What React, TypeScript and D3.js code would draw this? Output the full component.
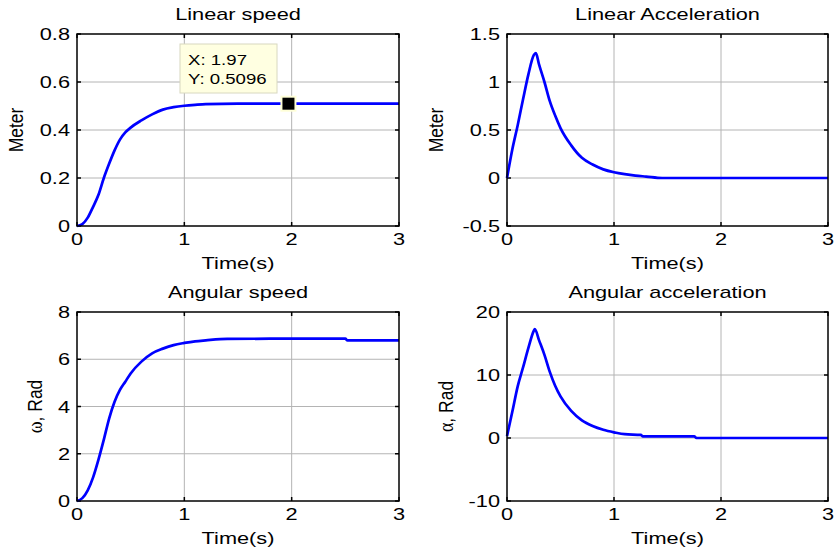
import React from "react";
import * as d3 from "d3";

const speedTime = [0, 0.05, 0.1, 0.15, 0.2, 0.25, 0.3, 0.35, 0.4, 0.45, 0.5, 0.6, 0.7, 0.8, 0.9, 1.0, 1.1, 1.2, 1.5, 2, 2.5, 3];
const linearSpeed = [0, 0.008, 0.035, 0.08, 0.13, 0.2, 0.26, 0.315, 0.36, 0.39, 0.41, 0.44, 0.465, 0.485, 0.495, 0.501, 0.505, 0.508, 0.5096, 0.5096, 0.5096, 0.5096];

const linAccTime = [0, 0.05, 0.1, 0.15, 0.2, 0.25, 0.27, 0.3, 0.35, 0.4, 0.45, 0.5, 0.6, 0.7, 0.8, 0.9, 1.0, 1.1, 1.2, 1.3, 1.45, 2, 3];
const linearAcc = [0, 0.3, 0.55, 0.82, 1.08, 1.28, 1.3, 1.18, 1.0, 0.8, 0.65, 0.52, 0.34, 0.21, 0.14, 0.09, 0.06, 0.04, 0.025, 0.015, 0, 0, 0];

const angSpeedTime = [0, 0.05, 0.1, 0.15, 0.2, 0.25, 0.3, 0.35, 0.4, 0.45, 0.5, 0.6, 0.7, 0.8, 0.9, 1.0, 1.1, 1.2, 1.4, 1.8, 2.5, 2.52, 3];
const angularSpeed = [0, 0.12, 0.45, 1.0, 1.75, 2.6, 3.5, 4.2, 4.7, 5.05, 5.4, 5.9, 6.25, 6.45, 6.6, 6.69, 6.76, 6.8, 6.86, 6.87, 6.87, 6.8, 6.8];

const angAccTime = [0, 0.05, 0.1, 0.15, 0.2, 0.25, 0.26, 0.3, 0.35, 0.4, 0.45, 0.5, 0.6, 0.7, 0.8, 0.9, 1.0, 1.1, 1.25, 1.27, 1.75, 1.77, 3];
const angularAcc = [0.3, 4.2, 8.2, 11.2, 14.3, 17, 17.3, 15.5, 13.2, 10.5, 8.3, 6.6, 4.3, 2.8, 1.9, 1.3, 0.9, 0.6, 0.5, 0.25, 0.25, 0, 0];

const xTicks = [0, 1, 2, 3];
const datatip = { x: 1.97, y: 0.5096 };

const FONT = "'Liberation Sans', Arial, sans-serif";
const SX = 1.36; // the figure is stretched horizontally

type Panel = {
  title: string;
  ylabel: string;
  greek?: string;
  t: number[];
  v: number[];
  yDomain: [number, number];
  yTicks: number[];
  box: { l: number; r: number; t: number; b: number };
};

const panels: Panel[] = [
  { title: "Linear speed", ylabel: "Meter", t: speedTime, v: linearSpeed, yDomain: [0, 0.8], yTicks: [0, 0.2, 0.4, 0.6, 0.8], box: { l: 77, r: 399, t: 34, b: 226 } },
  { title: "Linear Acceleration", ylabel: "Meter", t: linAccTime, v: linearAcc, yDomain: [-0.5, 1.5], yTicks: [-0.5, 0, 0.5, 1, 1.5], box: { l: 507, r: 828, t: 34, b: 226 } },
  { title: "Angular speed", ylabel: ", Rad", greek: "ω", t: angSpeedTime, v: angularSpeed, yDomain: [0, 8], yTicks: [0, 2, 4, 6, 8], box: { l: 77, r: 399, t: 312, b: 501 } },
  { title: "Angular acceleration", ylabel: ", Rad", greek: "α", t: angAccTime, v: angularAcc, yDomain: [-10, 20], yTicks: [-10, 0, 10, 20], box: { l: 507, r: 828, t: 312, b: 501 } },
];

const ylabelX = [23, 443, 42, 453];

function Subplot({ p, idx }: { p: Panel; idx: number }) {
  const { l, r, t, b } = p.box;
  const x = d3.scaleLinear().domain([0, 3]).range([l, r]);
  const y = d3.scaleLinear().domain(p.yDomain).range([b, t]);
  const line = d3.line<number>().x((_, i) => x(p.t[i])).y((d) => y(d)).curve(d3.curveMonotoneX);
  const cx = (l + r) / 2;
  const cy = (t + b) / 2;
  const tk = 4;
  const tickY = b + 19;
  return (
    <g>
      {/* grid */}
      {xTicks.slice(1, -1).map((v) => (
        <line key={"gx" + v} x1={x(v)} x2={x(v)} y1={t} y2={b} stroke="#b4b4b4" strokeWidth={1} />
      ))}
      {p.yTicks.slice(1, -1).map((v) => (
        <line key={"gy" + v} x1={l} x2={r} y1={y(v)} y2={y(v)} stroke="#b4b4b4" strokeWidth={1} />
      ))}
      {/* ticks */}
      {xTicks.map((v) => (
        <g key={"tx" + v}>
          <line x1={x(v)} x2={x(v)} y1={b} y2={b - tk} stroke="#000" strokeWidth={1.5} />
          <line x1={x(v)} x2={x(v)} y1={t} y2={t + tk} stroke="#000" strokeWidth={1.5} />
          <text transform={`translate(${x(v)},${tickY}) scale(${SX},1)`} textAnchor="middle" fontSize={16} fontFamily={FONT}>{v}</text>
        </g>
      ))}
      {p.yTicks.map((v) => (
        <g key={"ty" + v}>
          <line x1={l} x2={l + tk} y1={y(v)} y2={y(v)} stroke="#000" strokeWidth={1.5} />
          <line x1={r} x2={r - tk} y1={y(v)} y2={y(v)} stroke="#000" strokeWidth={1.5} />
          <text transform={`translate(${l - 7},${y(v) + 6}) scale(${SX},1)`} textAnchor="end" fontSize={16} fontFamily={FONT}>{v}</text>
        </g>
      ))}
      {/* curve */}
      <path d={line(p.v) || ""} fill="none" stroke="#0000ff" strokeWidth={2.7} strokeLinejoin="round" />
      {/* box */}
      <rect x={l} y={t} width={r - l} height={b - t} fill="none" stroke="#000" strokeWidth={1.5} />
      {/* labels */}
      <text transform={`translate(${cx},${t - 14}) scale(${SX},1)`} textAnchor="middle" fontSize={16} fontFamily={FONT}>{p.title}</text>
      <text transform={`translate(${cx},${b + 43}) scale(${SX},1)`} textAnchor="middle" fontSize={16} fontFamily={FONT}>Time(s)</text>
      <text transform={`translate(${ylabelX[idx]},${cy}) rotate(-90) scale(1,1.2)`} textAnchor="middle" fontSize={17.5} fontFamily={FONT}>
        {p.greek && <tspan fontFamily="'Liberation Serif', 'Times New Roman', serif" fontSize={18}>{p.greek}</tspan>}
        {p.ylabel}
      </text>
    </g>
  );
}

export default function App() {
  const p0 = panels[0];
  const x = d3.scaleLinear().domain([0, 3]).range([p0.box.l, p0.box.r]);
  const y = d3.scaleLinear().domain(p0.yDomain).range([p0.box.b, p0.box.t]);
  const mx = x(datatip.x);
  const my = y(datatip.y);
  return (
    <svg width={838} height={557} style={{ position: "absolute", left: 0, top: 0, background: "#fff" }}>
      <rect width={838} height={557} fill="#fff" />
      {panels.map((p, i) => (
        <Subplot key={i} p={p} idx={i} />
      ))}
      {/* data tip */}
      <rect x={180} y={44} width={97} height={49} fill="#ffffe1" stroke="#d8d8c0" strokeWidth={1} />
      <text transform={`translate(188,65) scale(1.33,1)`} fontSize={14} fontFamily={FONT}>{`X: ${datatip.x}`}</text>
      <text transform={`translate(188,84) scale(1.33,1)`} fontSize={14} fontFamily={FONT}>{`Y: ${datatip.y}`}</text>
      <rect x={mx - 8} y={my - 8} width={16} height={16} fill="#ffffd8" />
      <rect x={mx - 6} y={my - 6} width={12} height={12} fill="#000" />
    </svg>
  );
}
